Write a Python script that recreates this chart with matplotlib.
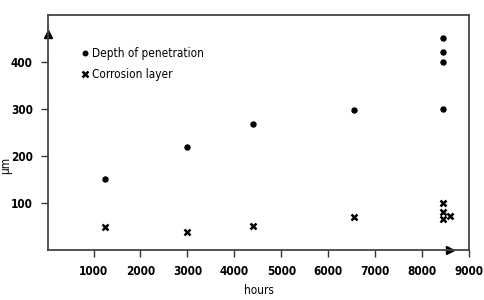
import matplotlib
matplotlib.use("Agg")
import matplotlib.pyplot as plt

# data
depth_hours = [1250, 3000, 4400, 6550, 8450, 8450, 8450, 8450]
depth_um = [150, 220, 268, 298, 450, 422, 400, 300]

layer_hours = [1250, 3000, 4400, 6550, 8450, 8450, 8600, 8450]
layer_um = [48, 38, 50, 70, 100, 80, 72, 66]

xticks = [1000, 2000, 3000, 4000, 5000, 6000, 7000, 8000, 9000]
yticks = [100, 200, 300, 400]

plt.rcParams['font.family'] = ['DejaVu Sans']
plt.rcParams['font.stretch'] = 'condensed'

fig = plt.figure(figsize=(4.85, 3.0), dpi=100)
ax = fig.add_axes([0.099, 0.167, 0.868, 0.783])

ax.plot(depth_hours, depth_um, 'o', color='black', markersize=3.6, label='Depth of penetration')
ax.plot(layer_hours, layer_um, 'x', color='black', markersize=5, markeredgewidth=1.8, label='Corrosion layer')

ax.set_xlim(30, 9000)
ax.set_ylim(0, 500)
ax.set_xticks(xticks)
ax.set_yticks(yticks)
ax.tick_params(direction='out', length=5, width=1, color='#333333', labelsize=8.5, pad=6)
for lab in ax.get_xticklabels() + ax.get_yticklabels():
    lab.set_fontweight('bold')

for s in ax.spines.values():
    s.set_color('#444444')
    s.set_linewidth(1.3)

# arrow heads on the axes
ax.plot([0], [0.92], marker='^', color='black', markersize=6, transform=ax.transAxes, clip_on=False)
ax.plot([0.955], [0], marker='>', color='black', markersize=6, transform=ax.transAxes, clip_on=False)

ax.set_xlabel('hours', fontsize=8.5, labelpad=4)
ax.set_ylabel('μm', fontsize=8.5)
ax.yaxis.set_label_coords(-0.085, 0.36)

ax.legend(loc='upper left', bbox_to_anchor=(0.062, 0.885), frameon=False, fontsize=8.5,
          handletextpad=0.1, handlelength=1.0, labelspacing=0.7, markerscale=0.9,
          borderaxespad=0)

fig.savefig('out.png', dpi=100)
